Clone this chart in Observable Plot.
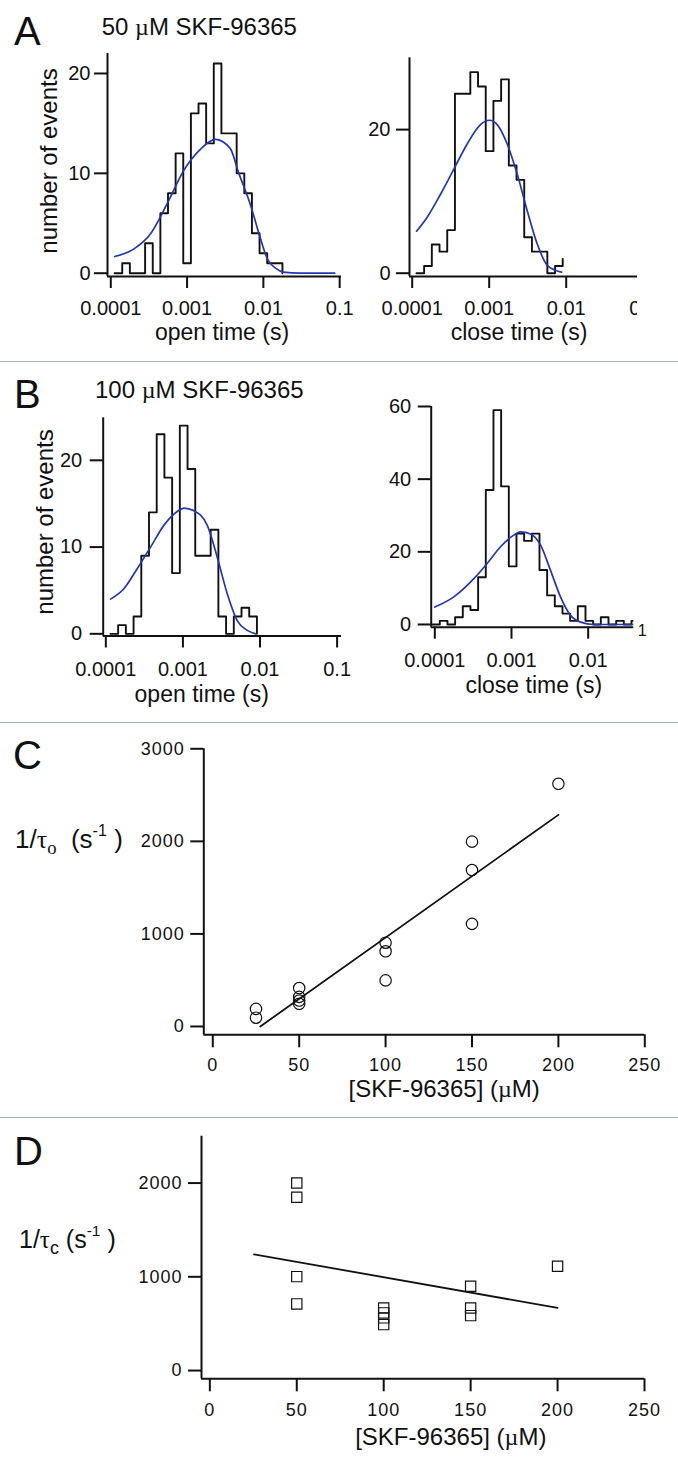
<!DOCTYPE html>
<html><head><meta charset="utf-8">
<script src="https://cdn.jsdelivr.net/npm/d3@7"></script>
<script src="https://cdn.jsdelivr.net/npm/@observablehq/plot@0.6"></script>
<style>
body{margin:0;background:#fff;}
#fig{position:relative;width:678px;height:1467px;overflow:hidden;background:#fff;font-family:"Liberation Sans",Arial,Helvetica,sans-serif;color:#111;}
.t{position:absolute;white-space:nowrap;line-height:1;}
.t sub{font-size:0.72em;vertical-align:-0.32em;line-height:0;}
.t sup{font-size:0.62em;vertical-align:0.75em;line-height:0;}
.serif{font-family:"Liberation Serif","DejaVu Serif",serif;}
.sep{position:absolute;left:0;width:678px;height:0;border-top:1.5px solid #a6b5bc;}
.pl{position:absolute;left:0;}
.pl svg{overflow:visible;max-width:none !important;}
</style></head><body><div id="fig"></div>
<script>
// ---------------- DATA ----------------
const histTickValues = [0.0001, 0.001, 0.01, 0.1];
const histTickLabels = ["0.0001", "0.001", "0.01", "0.1"];
const binWidthDecades = 0.1;

// A: 50 uM, open times
const aOpenBinStartLog = -3.95;
const aOpenCounts = [0,1,0,0,3,0,6,8,12,1,16,17,13,21,14,14,10,8,4,2,1,1,0];
const aOpenFitLog = [-3.948,-3.696,-3.478,-3.261,-3.043,-2.826,-2.630,-2.435,-2.326,-2.174,-2.043,-1.957,-1.826,-1.739,-1.522,-1.065];
const aOpenFitN   = [1.67,2.44,3.95,6.96,10.3,12.4,13.4,12.5,10.1,6.96,3.6,1.6,0.43,0.1,0,0];
const aOpenYTicks = [0, 10, 20];
const aOpenXTicks = [0.0001, 0.001, 0.01, 0.1];

// A: 50 uM, close times
const aCloseBinStartLog = -3.945;
const aCloseCounts = [0,1,4,3,6,25,25,28,26,17,24,27,15,13,5,3,3,0,1,2];
const aCloseFitLog = [-3.944,-3.805,-3.632,-3.459,-3.286,-3.113,-2.996,-2.896,-2.766,-2.636,-2.506,-2.377,-2.247,-2.139,-2.061];
const aCloseFitN   = [5.85,7.8,11.0,14.5,18.0,20.7,21.3,20.7,18.0,13.8,8.7,4.1,1.1,0.4,0.14];
const aCloseYTicks = [0, 20];
const aCloseXTicks = [0.0001, 0.001, 0.01, 0.1];

// B: 100 uM, open times
const bOpenBinStartLog = -3.94;
const bOpenCounts = [0,1,0,2,9,14,23,18,7,24,19,9,9,12,2,0,2,3,2,0];
const bOpenFitLog = [-3.939,-3.766,-3.593,-3.420,-3.247,-3.074,-2.987,-2.857,-2.684,-2.554,-2.424,-2.294,-2.165,-2.056];
const bOpenFitN   = [4.0,5.2,7.5,10.0,12.5,14.1,14.5,14.2,12.5,8.8,4.6,1.5,0.4,0];
const bOpenYTicks = [0, 10, 20];
const bOpenXTicks = [0.0001, 0.001, 0.01, 0.1];

// B: 100 uM, close times
const bCloseBinStartLog = -4.035;
const bCloseCounts = [0,1,0,2,5,4,13,37,59,38,16,25,23,25,15,8,5,3,1,5,1,0,2,0,1,0,1,1];
const bCloseFitLog = [-4.0,-3.752,-3.491,-3.317,-3.143,-2.970,-2.883,-2.752,-2.622,-2.491,-2.361,-2.230,-2.100,-1.926,-1.404];
const bCloseFitN   = [4.8,7.6,12.6,16.8,21.4,24.6,25.5,24.9,21.9,14.9,7.6,2.5,0.65,0,0];
const bCloseYTicks = [0, 20, 40, 60];
const bCloseXTicks = [0.0001, 0.001, 0.01];

// C: 1/tau_o vs [SKF-96365]
const cConc = [25,25,50,50,50,50,100,100,100,150,150,150,200];
const cRate = [190,95,415,320,280,245,905,812,498,1997,1690,1108,2622];
const cFitConc = [27.5, 200];
const cFitRate = [0, 2286];
const cYTicks = [0, 1000, 2000, 3000];
const cXTicks = [0, 50, 100, 150, 200, 250];

// D: 1/tau_c vs [SKF-96365]
const dConc = [50,50,50,50,100,100,100,100,150,150,150,200];
const dRate = [2000,1848,1002,711,668,615,562,490,899,668,586,1112];
const dFitConc = [25.4, 200];
const dFitRate = [1240, 668];
const dYTicks = [0, 1000, 2000];
const dXTicks = [0, 50, 100, 150, 200, 250];

// ---------------- DRAWING ----------------
const fig = document.getElementById("fig");
const FONT = '"Liberation Sans", Arial, Helvetica, sans-serif';
const INK = "#111";
const BLUE = "#2337b2";

function place(node, top, clipWidth) {
  node.style.maxWidth = "none";
  const wrap = document.createElement("div");
  wrap.className = "pl";
  wrap.style.top = top + "px";
  if (clipWidth) { wrap.style.width = clipWidth + "px"; wrap.style.height = "400px"; wrap.style.overflow = "hidden"; }
  wrap.appendChild(node);
  fig.appendChild(wrap);
}

const histPts = (startLog, counts) => counts.map((c, i) => ({t: Math.pow(10, startLog + i * binWidthDecades), n: c}));
const fitPts = (logs, ns) => logs.map((l, i) => ({t: Math.pow(10, l), n: ns[i]}));
const xyPts = (xs, ys) => xs.map((x, i) => ({x, y: ys[i]}));

function histPlot(o) {
  const p = Plot.plot({
    width: 678, height: o.height,
    marginLeft: o.frameL, marginRight: 678 - o.frameR,
    marginTop: o.frameT - o.top, marginBottom: o.top + o.height - o.frameB,
    x: {type: "log", domain: [Math.pow(10, o.xLog[0]), Math.pow(10, o.xLog[1])]},
    y: {domain: o.yDom},
    style: {fontFamily: FONT, fontSize: "20px", color: INK, background: "transparent", maxWidth: "none"},
    marks: [
      Plot.ruleX([Math.pow(10, o.xLog[0])], {stroke: INK, strokeWidth: 2}),
      Plot.ruleY([o.yDom[0]], {stroke: INK, strokeWidth: 2}),
      Plot.axisY({ticks: o.yTicks, tickFormat: d => String(d), tickSize: 13, tickPadding: o.yPad, strokeWidth: 2, label: null, fontSize: 20}),
      Plot.axisX({ticks: o.xTicks, tickFormat: d => histTickLabels[histTickValues.indexOf(d)], tickSize: 12, tickPadding: o.xPad, strokeWidth: 2, label: null, fontSize: 20}),
      Plot.line(o.hist, {x: "t", y: "n", curve: "step-after", stroke: INK, strokeWidth: 1.9, clip: true}),
      Plot.line(o.fit, {x: "t", y: "n", curve: "monotone-x", stroke: BLUE, strokeWidth: 1.7, clip: true})
    ]
  });
  place(p, o.top, o.clipWidth);
}

function scatterPlot(o) {
  const p = Plot.plot({
    width: 678, height: o.height,
    marginLeft: o.frameL, marginRight: 678 - o.frameR,
    marginTop: o.frameT - o.top, marginBottom: o.top + o.height - o.frameB,
    x: {domain: o.xDom},
    y: {domain: o.yDom},
    style: {fontFamily: FONT, fontSize: "18px", color: INK, background: "transparent", letterSpacing: "1px", maxWidth: "none"},
    marks: [
      Plot.ruleX([o.xDom[0]], {stroke: INK, strokeWidth: 2}),
      Plot.ruleY([o.yDom[0]], {stroke: INK, strokeWidth: 2}),
      Plot.axisY({ticks: o.yTicks, tickFormat: d => String(d), tickSize: 13, tickPadding: o.yPad, strokeWidth: 2, label: null, fontSize: 18}),
      Plot.axisX({ticks: o.xTicks, tickFormat: d => String(d), tickSize: 13, tickPadding: o.xPad, strokeWidth: 2, label: null, fontSize: 18}),
      Plot.line(o.fit, {x: "x", y: "y", stroke: INK, strokeWidth: 1.8}),
      Plot.dot(o.pts, {x: "x", y: "y", r: o.r, symbol: o.symbol, stroke: INK, fill: "none", strokeWidth: 1.2})
    ]
  });
  place(p, o.top);
}

// Panel A
histPlot({top: 0, height: 330, frameL: 107, frameR: 341, frameT: 53, frameB: 276,
  xLog: [-4.043, -0.976], yDom: [-0.33, 22.0], yTicks: aOpenYTicks, xTicks: aOpenXTicks, yPad: 4, xPad: 12,
  hist: histPts(aOpenBinStartLog, aOpenCounts), fit: fitPts(aOpenFitLog, aOpenFitN)});
histPlot({top: 0, height: 330, frameL: 409, frameR: 645, frameT: 57.3, frameB: 276,
  xLog: [-4.035, -0.970], yDom: [-0.46, 30.0], yTicks: aCloseYTicks, xTicks: aCloseXTicks, yPad: 6, xPad: 12,
  hist: histPts(aCloseBinStartLog, aCloseCounts), fit: fitPts(aCloseFitLog, aCloseFitN), clipWidth: 637});

// Panel B
histPlot({top: 362, height: 340, frameL: 102.7, frameR: 341, frameT: 417.3, frameB: 635.5,
  xLog: [-4.034, -0.943], yDom: [-0.25, 24.9], yTicks: bOpenYTicks, xTicks: bOpenXTicks, yPad: 8, xPad: 14,
  hist: histPts(bOpenBinStartLog, bOpenCounts), fit: fitPts(bOpenFitLog, bOpenFitN)});
histPlot({top: 362, height: 340, frameL: 430.7, frameR: 633.3, frameT: 406, frameB: 626.7,
  xLog: [-4.047, -1.405], yDom: [-0.75, 60], yTicks: bCloseYTicks, xTicks: bCloseXTicks, yPad: 7, xPad: 14,
  hist: histPts(bCloseBinStartLog, bCloseCounts), fit: fitPts(bCloseFitLog, bCloseFitN)});

// Panel C
scatterPlot({top: 723, height: 394, frameL: 203.3, frameR: 644.3, frameT: 748.3, frameB: 1034.3,
  xDom: [-5.2, 250], yDom: [-90, 3000], yTicks: cYTicks, xTicks: cXTicks, yPad: 6, xPad: 10,
  pts: xyPts(cConc, cRate), fit: xyPts(cFitConc, cFitRate), r: 5.7, symbol: "circle"});

// Panel D
scatterPlot({top: 1118, height: 349, frameL: 201, frameR: 644, frameT: 1135.7, frameB: 1378.3,
  xDom: [-4.8, 250], yDom: [-88, 2500], yTicks: dYTicks, xTicks: dXTicks, yPad: 6, xPad: 11,
  pts: xyPts(dConc, dRate), fit: xyPts(dFitConc, dFitRate), r: 5.8, symbol: "square"});

// separators
[360.7, 722.3, 1117.3].forEach(y => {
  const s = document.createElement("div"); s.className = "sep"; s.style.top = y + "px"; fig.appendChild(s);
});

// text
function addText(html, x, y, size, opt = {}) {
  const d = document.createElement("div");
  d.className = "t"; d.innerHTML = html;
  d.style.fontSize = size + "px";
  if (opt.family) d.style.fontFamily = opt.family;
  if (opt.ls) d.style.letterSpacing = opt.ls;
  if (opt.rotate) {
    d.style.left = x + "px"; d.style.top = y + "px";
    d.style.transform = "translate(-50%,-50%) rotate(-90deg)";
  } else {
    d.style.left = x + "px";
    d.style.top = (y - 0.8465 * size) + "px";
    if (opt.anchor === "middle") d.style.transform = "translateX(-50%)";
  }
  fig.appendChild(d);
}
const MU = '<span class="serif">\u00b5</span>';
addText("A", 14, 45, 40);
addText("B", 14, 408, 40);
addText("C", 13, 769, 40);
addText("D", 14, 1165, 40);
addText("50 " + MU + "M SKF-96365", 101.7, 35, 24);
addText("100 " + MU + "M SKF-96365", 95, 398.3, 24);
addText("number of events", 48.7, 161, 24, {rotate: true});
addText("number of events", 45, 522, 24, {rotate: true});
addText("open time (s)", 222, 340, 23, {anchor: "middle"});
addText("close time (s)", 519, 340, 23, {anchor: "middle"});
addText("open time (s)", 201.7, 702.5, 23, {anchor: "middle"});
addText("close time (s)", 533.8, 693, 23, {anchor: "middle"});
addText("1", 637.7, 636.7, 16);
addText('1/<span class="serif">\u03c4<sub>o</sub></span>&nbsp;&nbsp;(s<sup>-1</sup>&nbsp;)', 15, 848.3, 26);
addText('1/<span class="serif">\u03c4</span><sub>c</sub>&nbsp;(s<sup>-1</sup>&nbsp;)', 19, 1248, 25);
addText("[SKF-96365] (" + MU + "M)", 444.2, 1097, 24, {anchor: "middle"});
addText("[SKF-96365] (" + MU + "M)", 450.8, 1445, 24, {anchor: "middle"});
</script></body></html>
